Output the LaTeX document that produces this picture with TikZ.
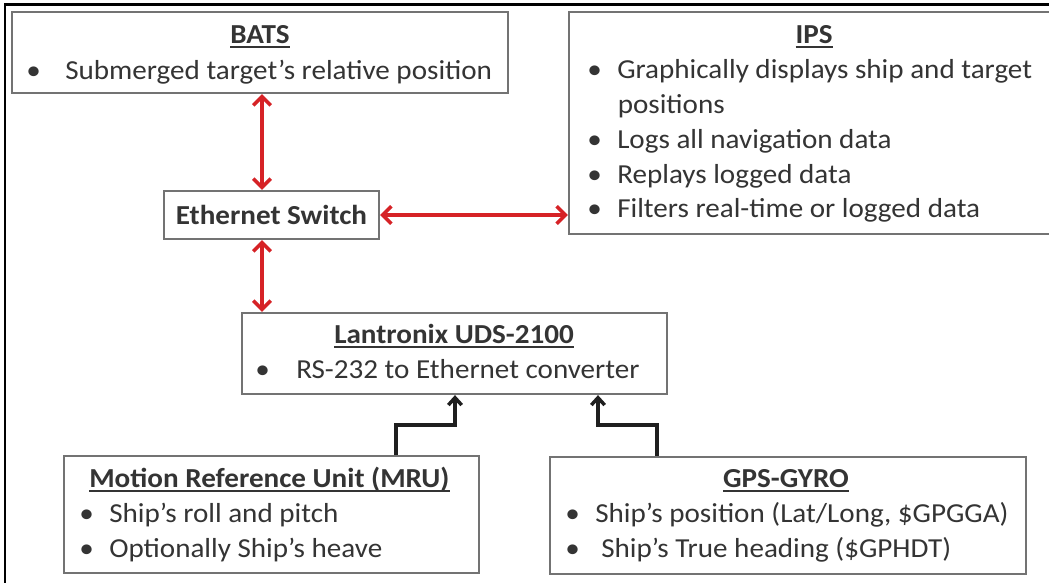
\documentclass[tikz,border=0pt]{standalone}
\usepackage{fontspec}
\setmainfont{Carlito}[FakeStretch=1.06]
\usetikzlibrary{arrows.meta,fit}
\definecolor{txt}{RGB}{52,52,52}
\definecolor{boxc}{RGB}{115,115,115}
\definecolor{redarr}{RGB}{214,34,38}
\newcommand\myul[1]{\setbox0\hbox{#1}\leavevmode\rlap{\rule[-3.8pt]{\wd0}{1.8pt}}\box0}
\newcommand\bitem[2]{\makebox[#1][l]{•}#2}
\begin{document}
\begin{tikzpicture}[x=0.75pt,y=-0.75pt,
  box/.style={draw=boxc, line width=1.7pt, inner sep=0pt, fill=white},
  txtn/.style={anchor=base west, inner sep=0pt, text=txt, font=\fontsize{20.6}{24}\selectfont},
  ttl/.style={anchor=base, inner sep=0pt, text=txt, font=\fontsize{20.6}{24}\selectfont\bfseries},
  redline/.style={draw=redarr, line width=2.7pt, {Straight Barb[length=6.5pt,width=13pt]}-{Straight Barb[length=6.5pt,width=13pt]}},
  blkline/.style={draw=black!88, line width=2.6pt, -{Straight Barb[length=5.5pt,width=10pt]}}]
\useasboundingbox (0,0) rectangle (1049,582);
\begin{scope}
\clip (0,0) rectangle (1049,582);
\fill[white] (0,0) rectangle (1049,582);
\draw[line width=1.6pt] (5,600) -- (5,4.5) -- (1060,4.5);
% boxes
\node[box, fit={(12,12) (508,93)}] (bats) {};
\node[box, fit={(569,12) (1059,234)}] (ips) {};
\node[box, minimum width=161.25pt, minimum height=36pt, text=txt, font=\fontsize{20.6}{24}\selectfont\bfseries] (eth) at (271.5,215) {Ethernet Switch};
\node[box, fit={(242,313) (667,394)}] (lan) {};
\node[box, fit={(64,456) (479,573)}] (mru) {};
\node[box, fit={(550,457) (1026,574)}] (gps) {};
% texts
\node[ttl] (batsT) at (260,43) {\myul{BATS}};
\node[txtn] (batsA) at (26,79) {\bitem{29.25pt}{Submerged target’s relative position}};
\node[ttl] (ipsT) at (814,43) {\myul{IPS}};
\node[txtn] (ipsA) at (587,78) {\bitem{22.5pt}{Graphically displays ship and target}};
\node[txtn] (ipsB) at (617.5,113) {positions};
\node[txtn] (ipsC) at (587,148) {\bitem{22.5pt}{Logs all navigation data}};
\node[txtn] (ipsD) at (587,183) {\bitem{22.5pt}{Replays logged data}};
\node[txtn] (ipsE) at (587,217) {\bitem{22.5pt}{Filters real-time or logged data}};
\node[ttl] (lanT) at (454,343) {\myul{Lantronix UDS-2100}};
\node[txtn] (lanA) at (255,378) {\bitem{30.75pt}{RS-232 to Ethernet converter}};
\node[ttl, anchor=base west] (mruT) at (89,487) {\myul{Motion Reference Unit (MRU)}};
\node[txtn] (mruA) at (79,522) {\bitem{22.5pt}{Ship’s roll and pitch}};
\node[txtn] (mruB) at (79,557) {\bitem{22.5pt}{Optionally Ship’s heave}};
\node[ttl] (gpsT) at (786,487) {\myul{GPS-GYRO}};
\node[txtn] (gpsA) at (565,522) {\bitem{22.5pt}{Ship’s position (Lat/Long, \$GPGGA)}};
\node[txtn] (gpsB) at (565,557) {\bitem{27pt}{Ship’s True heading (\$GPHDT)}};
% connectors
\coordinate (rx) at (262,0);
\draw[redline] (rx |- bats.south) -- (rx |- eth.north);
\draw[redline] (eth.east) -- (eth.east -| ips.west);
\draw[redline] (rx |- eth.south) -- (rx |- lan.north);
\coordinate (m1) at (396,0);
\coordinate (m2) at (455,425);
\draw[blkline] (m1 |- mru.north) -- (m1 |- m2) -- (m2) -- (m2 |- lan.south);
\coordinate (g1) at (657,0);
\coordinate (g2) at (598,425);
\draw[blkline] (g1 |- gps.north) -- (g1 |- g2) -- (g2) -- (g2 |- lan.south);
\end{scope}
\end{tikzpicture}
\end{document}
